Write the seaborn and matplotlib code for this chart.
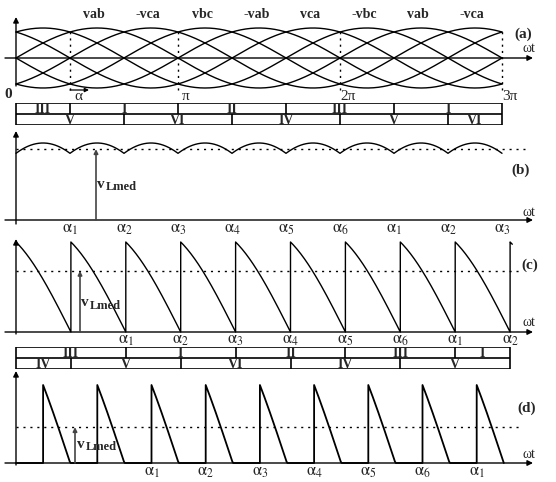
import numpy as np
import pandas as pd
import matplotlib
matplotlib.use("Agg")
import matplotlib.pyplot as plt
import seaborn as sns

# ---- data ----
# (a) six line voltages, phase offsets in degrees, and the labels over the peaks
phase_offsets = [0, 60, 120, 180, 240, 300]
peak_labels = ['vab', '-vca', 'vbc', '-vab', 'vca', '-vbc', 'vab', '-vca']
a_marks = [1, 3, 6, 9]                  # dotted lines (alpha, pi, 2pi, 3pi), in units of pi/3
a_mark_text = ['', 'π', '2π', '3π']

# switching tables (edges in units of pi/3)
tab_a_row1_edges = [0, 1, 3, 5, 7, 9]
tab_a_row1_labels = ['III', 'I', 'II', 'III', 'I']
tab_a_row2_edges = [0, 2, 4, 6, 8, 9]
tab_a_row2_labels = ['V', 'VI', 'IV', 'V', 'VI']
tab_c_row1_edges = [0, 2, 4, 6, 8, 9]
tab_c_row1_labels = ['III', 'I', 'II', 'III', 'I']
tab_c_row2_edges = [0, 1, 3, 5, 7, 9]
tab_c_row2_labels = ['IV', 'V', 'VI', 'IV', 'V']

# (b) alpha = 0
b_starts = [0, 1, 2, 3, 4, 5, 6, 7, 8]
b_alpha_pos = [1, 2, 3, 4, 5, 6, 7, 8, 9]
b_alpha_idx = [1, 2, 3, 4, 5, 6, 1, 2, 3]
b_mean = 0.92
# (c) alpha = 60 deg
c_starts = [0, 1, 2, 3, 4, 5, 6, 7, 8, 9]
c_alpha_pos = [2, 3, 4, 5, 6, 7, 8, 9]
c_alpha_idx = [1, 2, 3, 4, 5, 6, 1, 2]
c_mean = 0.68
# (d) alpha = 90 deg
d_starts = [0.5, 1.5, 2.5, 3.5, 4.5, 5.5, 6.5, 7.5, 8.5]
d_alpha_pos = [2.5, 3.5, 4.5, 5.5, 6.5, 7.5, 8.5]
d_alpha_idx = [1, 2, 3, 4, 5, 6, 1]
d_mean = 0.46

sns.set_style("white")
plt.rcParams['font.family'] = ['Liberation Serif', 'DejaVu Serif']
plt.rcParams['mathtext.fontset'] = 'stix'

W, H = 556, 482
fig = plt.figure(figsize=(W / 100, H / 100), dpi=100)


def make_axes(top, bottom, x0, step, y0, unit):
    ax = fig.add_axes([0, 1 - bottom / H, 1, (bottom - top) / H])
    ax.set_xlim(-x0 / step, (W - x0) / step)
    ax.set_ylim((y0 - bottom) / unit, (y0 - top) / unit)
    ax.set_axis_off()
    fx = lambda px: (px - x0) / step
    fy = lambda py: (y0 - py) / unit
    return ax, fx, fy


def arrow(ax, start, end, color='black', lw=1.0, scale=8):
    ax.annotate('', xy=end, xytext=start,
                arrowprops=dict(arrowstyle='-|>', color=color, lw=lw,
                                mutation_scale=scale, shrinkA=0, shrinkB=0))


def draw_axes(ax, fx, fy, ytop, ybot):
    arrow(ax, (fx(5), 0), (fx(533), 0))
    arrow(ax, (0, fy(ybot)), (0, fy(ytop)))


def build_wave(starts, end, amp, theta0, lead=None):
    xs, ys = [], []
    if lead is not None:
        xs += [lead, starts[0]]
        ys += [0, 0]
    for i, s in enumerate(starts):
        e = starts[i + 1] if i + 1 < len(starts) else end
        phi = np.linspace(s, e, 60)
        v = np.clip(amp * np.cos((phi - s) * np.pi / 3 + theta0), 0, None)
        xs += list(phi)
        ys += list(v)
    return pd.DataFrame({'step': xs, 'v': ys})


def alpha_labels(ax, pos, idx, y):
    for p, i in zip(pos, idx):
        ax.text(p, y, r'$\mathrm{\alpha}_{%d}$' % i, ha='center', va='center', fontsize=12)


def vlmed(ax, fx, fy, xpx, mean, vx, vy):
    arrow(ax, (fx(xpx), 0), (fx(xpx), mean), color='#444444', lw=1.2, scale=6)
    ax.text(fx(vx), fy(vy), 'v', ha='center', va='center', fontsize=11, fontweight='bold')
    ax.text(fx(vx + 5), fy(vy + 3), 'Lmed', ha='left', va='center', fontsize=9, fontweight='bold')


def table(top, bottom, x0, step, r1e, r1l, r2e, r2l):
    ax, fx, fy = make_axes(top, bottom, x0, step, bottom, (bottom - top) / 2)
    kw = dict(color='black', lw=1.2)
    end = r1e[-1]
    ax.hlines([0, 1, 2], 0, end, **kw)
    ax.vlines([0, end], 0, 2, **kw)
    ax.vlines(r1e[1:-1], 1, 2, **kw)
    ax.vlines(r2e[1:-1], 0, 1, **kw)
    for a, b, t in zip(r1e[:-1], r1e[1:], r1l):
        ax.text((a + b) / 2, 1.45, t, ha='center', va='center', fontsize=10, fontweight='bold')
    for a, b, t in zip(r2e[:-1], r2e[1:], r2l):
        ax.text((a + b) / 2, 0.45, t, ha='center', va='center', fontsize=10, fontweight='bold')


# ---- (a) ----
ax, fx, fy = make_axes(0, 102, 16, 54, 58, 30)
theta = np.linspace(0, 9, 500)
rows = []
for k, off in enumerate(phase_offsets):
    rows.append(pd.DataFrame({'step': theta,
                              'v': np.sin(theta * np.pi / 3 + np.radians(off)),
                              'curve': k}))
df_a = pd.concat(rows)
sns.lineplot(data=df_a, x='step', y='v', units='curve', estimator=None,
             color='black', lw=1.0, ax=ax, legend=False, sort=False)
draw_axes(ax, fx, fy, 17, 86)
ax.vlines(a_marks, -1.05, 1.0, colors='black', lw=1.0, linestyles=(0, (1.5, 3)))
for k, t in enumerate(peak_labels):
    ax.text(k + 1.45, fy(15), t, ha='center', va='center', fontsize=10, fontweight='bold')
for m, t in zip(a_marks, a_mark_text):
    if t:
        ax.text(m + 0.15, fy(96), t, ha='center', va='center', fontsize=11)
ax.text(fx(8), fy(95), '0', ha='center', va='center', fontsize=11, fontweight='bold')
arrow(ax, (a_marks[0], fy(90)), (fx(89), fy(90)), lw=0.9, scale=6)
ax.text(fx(78), fy(96), 'α', ha='center', va='center', fontsize=11)
ax.text(fx(523), fy(34), '(a)', ha='center', va='center', fontsize=11, fontweight='bold')
ax.text(fx(529), fy(48), 'ωt', ha='center', va='center', fontsize=10)

table(103, 125, 16, 54, tab_a_row1_edges, tab_a_row1_labels, tab_a_row2_edges, tab_a_row2_labels)

# ---- (b) ----
ax, fx, fy = make_axes(126, 240, 16, 54, 220, 77)
df_b = build_wave(b_starts, 9, 1.0, -np.pi / 6)
sns.lineplot(data=df_b, x='step', y='v', estimator=None, color='black', lw=1.0,
             ax=ax, sort=False)
draw_axes(ax, fx, fy, 131, 224)
ax.hlines(b_mean, 0, fx(525), colors='black', lw=1.0, linestyles=(0, (1.5, 3.5)))
vlmed(ax, fx, fy, 96, b_mean, 101, 184)
alpha_labels(ax, b_alpha_pos, b_alpha_idx, fy(229))
ax.text(fx(521), fy(170), '(b)', ha='center', va='center', fontsize=11, fontweight='bold')
ax.text(fx(529), fy(212), 'ωt', ha='center', va='center', fontsize=10)

# ---- (c) ----
ax, fx, fy = make_axes(236, 346, 16, 54.9, 332, 90)
df_c = build_wave(c_starts, 9.04, 1 / np.cos(np.pi / 6), np.pi / 6)
sns.lineplot(data=df_c, x='step', y='v', estimator=None, color='black', lw=1.0,
             ax=ax, sort=False)
draw_axes(ax, fx, fy, 239, 334)
ax.hlines(c_mean, 0, fx(522), colors='black', lw=1.0, linestyles=(0, (1.5, 3.5)))
vlmed(ax, fx, fy, 80, c_mean, 85, 303)
alpha_labels(ax, c_alpha_pos, c_alpha_idx, fy(340))
ax.text(fx(530), fy(265), '(c)', ha='center', va='center', fontsize=11, fontweight='bold')
ax.text(fx(529), fy(323), 'ωt', ha='center', va='center', fontsize=10)

table(347, 369, 16, 54.9, tab_c_row1_edges, tab_c_row1_labels, tab_c_row2_edges, tab_c_row2_labels)

# ---- (d) ----
ax, fx, fy = make_axes(370, 482, 16, 54.2, 463, 78)
df_d = build_wave(d_starts, 9, 2.0, np.pi / 3, lead=0)
sns.lineplot(data=df_d, x='step', y='v', estimator=None, color='black', lw=1.3,
             ax=ax, sort=False)
draw_axes(ax, fx, fy, 371, 465)
ax.hlines(d_mean, 0, fx(522), colors='black', lw=1.0, linestyles=(0, (1.5, 3.5)))
vlmed(ax, fx, fy, 75, d_mean, 81, 444)
alpha_labels(ax, d_alpha_pos, d_alpha_idx, fy(472))
ax.text(fx(527), fy(408), '(d)', ha='center', va='center', fontsize=11, fontweight='bold')
ax.text(fx(529), fy(455), 'ωt', ha='center', va='center', fontsize=10)

fig.savefig("out.png", dpi=100)
